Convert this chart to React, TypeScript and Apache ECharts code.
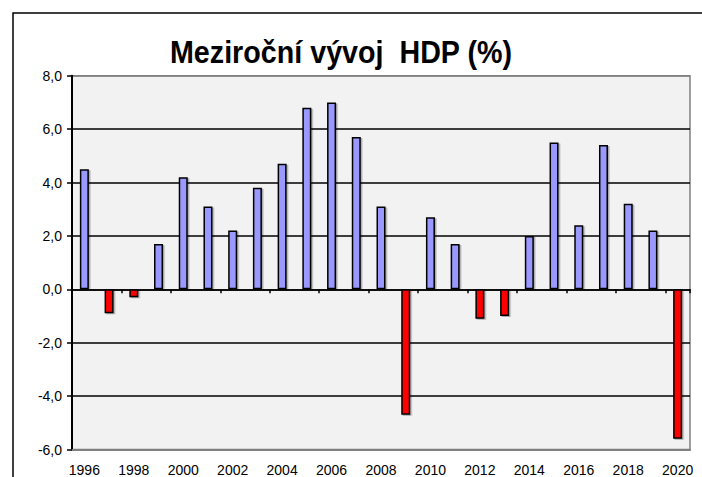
import React, { useEffect, useRef } from "react";
import * as echarts from "echarts";

const years: string[] = [
  "1996", "1997", "1998", "1999", "2000", "2001", "2002", "2003", "2004",
  "2005", "2006", "2007", "2008", "2009", "2010", "2011", "2012", "2013",
  "2014", "2015", "2016", "2017", "2018", "2019", "2020",
];
const growth: number[] = [
  4.5, -0.9, -0.3, 1.7, 4.2, 3.1, 2.2, 3.8, 4.7,
  6.8, 7.0, 5.7, 3.1, -4.7, 2.7, 1.7, -1.1, -1.0,
  2.0, 5.5, 2.4, 5.4, 3.2, 2.2, -5.6,
];
const titleText = "Meziroční vývoj\u00a0 HDP (%)";
const yMin = -6;
const yMax = 8;
const yStep = 2;

const FONT = "'Liberation Sans', Arial, sans-serif";

export default function App() {
  const ref = useRef<HTMLDivElement>(null);
  useEffect(() => {
    document.body.style.margin = "0";
    if (!ref.current) return;
    const chart = echarts.init(ref.current, undefined, { renderer: "svg" });
    const splitColors = [
      "#808080", "#000", "#000", "#000", "#000", "#000", "#000", "#808080",
    ];
    chart.setOption({
      animation: false,
      backgroundColor: "#ffffff",
      graphic: [
        {
          type: "rect",
          shape: { x: 13, y: 13, width: 800, height: 600 },
          style: { fill: "none", stroke: "#000", lineWidth: 1.5 },
          z: 0,
        },
        {
          type: "text",
          x: 341,
          y: 52,
          scaleX: 0.925,
          style: {
            text: titleText,
            font: `bold 31px ${FONT}`,
            fill: "#000",
            textAlign: "center",
            textVerticalAlign: "middle",
          },
        },
      ],
      grid: {
        left: 72,
        right: 12,
        top: 75.7,
        bottom: 27.5,
        show: true,
        backgroundColor: "#f2f2f2",
        borderColor: "#808080",
        borderWidth: 1.5,
      },
      xAxis: [
        {
          type: "category",
          data: years,
          position: "bottom",
          axisLine: { onZero: false, lineStyle: { color: "#808080", width: 2 } },
          axisTick: { show: false },
          axisLabel: {
            interval: 1,
            color: "#000",
            fontSize: 14,
            fontFamily: FONT,
            margin: 13,
          },
          splitLine: { show: false },
        },
        {
          type: "category",
          data: years,
          position: "bottom",
          axisLine: { onZero: true, lineStyle: { color: "#000", width: 1.5 } },
          axisTick: { show: true, inside: false, length: 4, lineStyle: { color: "#000", width: 1.5 } },
          axisLabel: { show: false },
          splitLine: { show: false },
        },
      ],
      yAxis: {
        type: "value",
        min: yMin,
        max: yMax,
        interval: yStep,
        axisLine: { show: true, lineStyle: { color: "#000", width: 2 } },
        axisTick: { show: true, length: 5, lineStyle: { color: "#000", width: 1.5 } },
        axisLabel: {
          color: "#000",
          fontSize: 14,
          fontFamily: FONT,
          margin: 10,
          formatter: (v: number) => v.toFixed(1).replace(".", ","),
        },
        splitLine: { show: true, lineStyle: { color: splitColors, width: 1.5 } },
      },
      series: [
        {
          type: "bar",
          xAxisIndex: 0,
          data: growth,
          barWidth: 9,
          itemStyle: {
            color: (p: any) => (p.value < 0 ? "#ff0000" : "#9999ff"),
            borderColor: "#000",
            borderWidth: 1.5,
            shadowColor: "rgba(0,0,0,0.3)",
            shadowOffsetX: 1.5,
            shadowOffsetY: 1,
            shadowBlur: 0,
          },
          z: 3,
        },
      ],
    });
    return () => chart.dispose();
  }, []);
  return <div ref={ref} style={{ width: 702, height: 477 }} />;
}
